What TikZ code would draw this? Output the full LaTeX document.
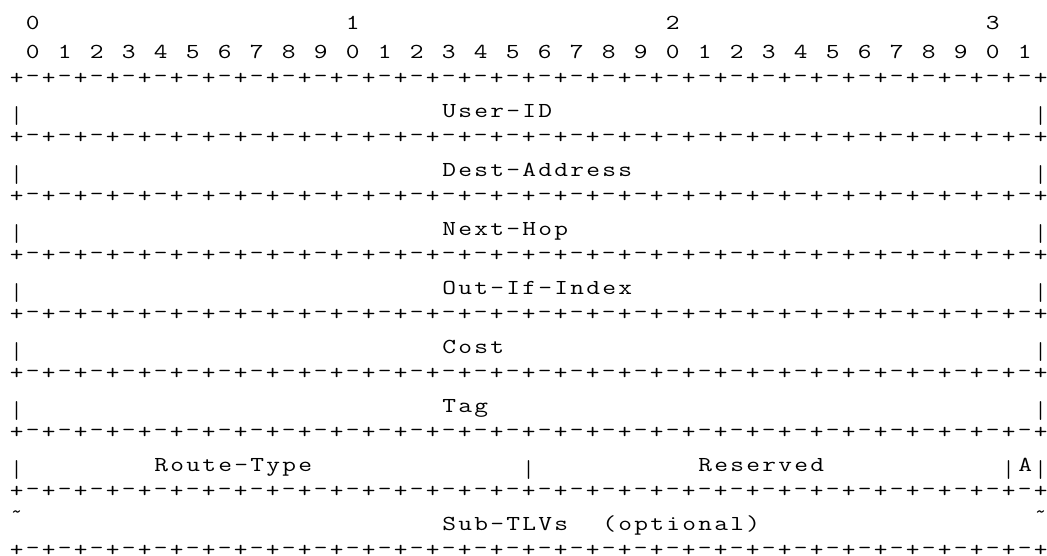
\documentclass[tikz,border=0pt]{standalone}
\usepackage{fontspec}

% one character per 16px column, a little wider like the typewriter face
\newcommand\wide[1]{\scalebox{1.25}[1]{#1}}
\newcommand\spaced[1]{\spacedloop#1\relax}
\def\spacedloop#1{\ifx#1\relax\else\makebox[12pt]{\wide{#1}}\expandafter\spacedloop\fi}

\tikzset{every picture/.style={line width=0.75pt}}
\tikzset{
  glyph/.style={inner sep=0pt, font=\ttfamily\fontsize{16}{18}\selectfont},
  field/.style={glyph, anchor=base west},
}

\begin{document}
\begin{tikzpicture}[x=0.75pt,y=0.75pt,yscale=-1,xscale=1]
\useasboundingbox (0,0) rectangle (1047,556);

% Bit numbers
\foreach \t in {0,...,3}
  \node[glyph, anchor=base] (tens-\t) at ({16.7+16*(20*\t+1)},29.3) {\wide{\t}};
\foreach \b [evaluate=\b as \u using {int(mod(\b,10))}] in {0,...,31}
  \node[glyph, anchor=base] (bit-\b) at ({16.7+16*(2*\b+1)},58.8) {\wide{\u}};

% Rule rows +-+-+
\foreach \r in {2,4,...,18}
  \foreach \c in {0,...,64}
    \node[glyph] (rule-\r-\c) at ({16.7+16*\c},{29.3+29.5*\r-9.7}) {\wide{\ifodd\c\relax-\else+\fi}};

% Side bars
\foreach \r in {3,5,...,15}
  \foreach \c in {0,64}
    \node[glyph] (bar-\r-\c) at ({16.7+16*\c},{29.3+29.5*\r-1.5}) {\scalebox{1}[1.15]{|}};

% Full-width fields
\foreach \r/\lbl/\nm in {3/User-ID/userid, 5/Dest-Address/destaddr, 7/Next-Hop/nexthop,
    9/Out-If-Index/outif, 11/Cost/cost, 13/Tag/tag}
  \node[field] (\nm) at ({8.7+16*27},{29.3+29.5*\r}) {\expandafter\spaced\expandafter{\lbl}};

% Route-Type row
\node[field] (routetype) at ({8.7+16*9},471.8) {\spaced{Route-Type}};
\node[glyph] (bar-15-32) at ({16.7+16*32},470.3) {\scalebox{1}[1.15]{|}};
\node[field] (reserved) at ({8.7+16*43},471.8) {\spaced{Reserved}};
\node[glyph] (bar-15-62) at ({16.7+16*62},470.3) {\scalebox{1}[1.15]{|}};
\node[field] (aflag) at ({8.7+16*63},471.8) {\spaced{A}};

% Sub-TLVs row
\node[glyph] (tilde-l) at (16.7,514.8) {\textasciitilde};
\node[field] (subtlv) at ({8.7+16*27},530.8) {\spaced{Sub-TLVs}};
\node[field] (optional) at ({8.7+16*37},530.8) {\spaced{(optional)}};
\node[glyph] (tilde-r) at ({16.7+16*64},514.8) {\textasciitilde};

\end{tikzpicture}
\end{document}
